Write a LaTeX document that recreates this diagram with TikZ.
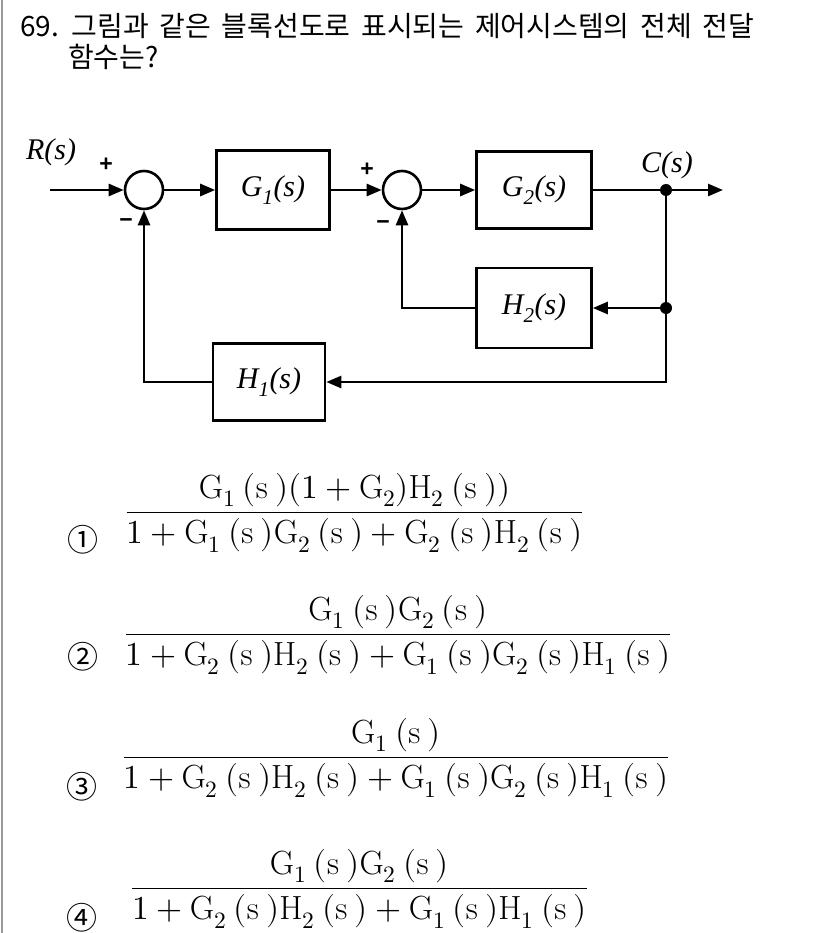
\documentclass[tikz,border=0pt]{standalone}
\usepackage{amsmath}
\usepackage{fontspec}
\usepackage{unicode-math}
\usetikzlibrary{arrows.meta}
\newfontfamily\krfont[WordSpace=1.7]{Noto Sans CJK KR}
\newfontfamily\blkfont{Liberation Serif}
\newfontfamily\sgnfont{Liberation Sans}
\newcommand{\fs}[2]{\mathrm{#1}_{#2}\:(\mathrm{s}\:)}
\tikzset{
	block/.style={draw, line width=2.6pt, minimum width=113pt, minimum height=79pt, inner sep=0pt, font=\blkfont\itshape\fontsize{30}{36}\selectfont},
	summer/.style={circle, draw, line width=2.6pt, minimum size=38pt, inner sep=0pt},
	dot/.style={circle, fill, minimum size=12pt, inner sep=0pt},
	wire/.style={line width=2.6pt},
	sigline/.style={wire, -{Triangle[length=15pt,width=12pt]}},
	sgn/.style={inner sep=0pt, font=\sgnfont\bfseries\fontsize{23}{26}\selectfont},
	lbl/.style={inner sep=0pt, font=\blkfont\itshape\fontsize{30}{36}\selectfont},
	frac/.style={anchor=base, inner sep=0pt, font=\fontsize{33.5}{40}\selectfont},
	num/.style={inner sep=0pt, font=\krfont\fontsize{31}{34}\selectfont},
	question/.style={anchor=base west, inner sep=0pt, font=\krfont\fontsize{28}{32}\selectfont}
}
\begin{document}
\begin{tikzpicture}[x=1pt,y=-1pt]
	\useasboundingbox (0,0) rectangle (826,933);
	\draw[gray!80, line width=2pt] (1.5,0) -- (1.5,933);
	% question
	\node (Q1) at (20,37)	[question]	{69. 그림과 같은 블록선도로 표시되는 제어시스템의 전체 전달};
	\node (Q2) at (68,68)	[question]	{함수는?};
	% block diagram
	\coordinate (IN) at (50,190);
	\coordinate (OUT) at (723,190);
	\node (S1) at (144,190)	[summer]	{};
	\node (G1) at (273,190)	[block]		{G\textsubscript{1}(s)};
	\node (S2) at (402,190)	[summer]	{};
	\node (G2) at (534,190)	[block, minimum width=115pt, minimum height=77pt]	{G\textsubscript{2}(s)};
	\node (J1) at (666,190)	[dot]		{};
	\node (H2) at (534,308)	[block, minimum width=115pt, minimum height=80pt]	{H\textsubscript{2}(s)};
	\node (J2) at (666,308)	[dot]		{};
	\node (H1) at (269,382)	[block, minimum width=112pt, minimum height=77pt]	{H\textsubscript{1}(s)};
	\node (R) at (51,152)	[lbl]	{R(s)};
	\node (C) at (667,165)	[lbl]	{C(s)};
	\node (P1) at (106,165)	[sgn]	{+};
	\node (M1) at (126,223)	[sgn]	{−};
	\node (P2) at (367,170)	[sgn]	{+};
	\node (M2) at (383,225)	[sgn]	{−};
	\draw[sigline] (IN) -- (S1);
	\draw[sigline] (S1) -- (G1);
	\draw[sigline] (G1) -- (S2);
	\draw[sigline] (S2) -- (G2);
	\draw[wire] (G2) -- (J1);
	\draw[sigline] (J1) -- (OUT);
	\draw[wire] (J1) -- (J2);
	\draw[sigline] (J2) -- (H2);
	\draw[sigline] (J2) |- (H1);
	\draw[sigline] (H2) -| (S2);
	\draw[sigline] (H1) -| (S1);
	% answers
	\node (N1) at (83,540)	[num]	{①};
	\node (F1) at (354.5,521)	[frac]	{$\dfrac{\fs{G}{1}(1+\mathrm{G}_2)\mathrm{H}_2\:(\mathrm{s}\:))}{1+\fs{G}{1}\fs{G}{2}+\fs{G}{2}\fs{H}{2}}$};
	\node (N2) at (83,657)	[num]	{②};
	\node (F2) at (398,643)	[frac]	{$\dfrac{\fs{G}{1}\fs{G}{2}}{1+\fs{G}{2}\fs{H}{2}+\fs{G}{1}\fs{G}{2}\fs{H}{1}}$};
	\node (N3) at (82,787)	[num]	{③};
	\node (F3) at (396,766)	[frac]	{$\dfrac{\fs{G}{1}}{1+\fs{G}{2}\fs{H}{2}+\fs{G}{1}\fs{G}{2}\fs{H}{1}}$};
	\node (N4) at (82,918)	[num]	{④};
	\node (F4) at (359.5,897)	[frac]	{$\dfrac{\fs{G}{1}\fs{G}{2}}{1+\fs{G}{2}\fs{H}{2}+\fs{G}{1}\fs{H}{1}}$};
\end{tikzpicture}
\end{document}
